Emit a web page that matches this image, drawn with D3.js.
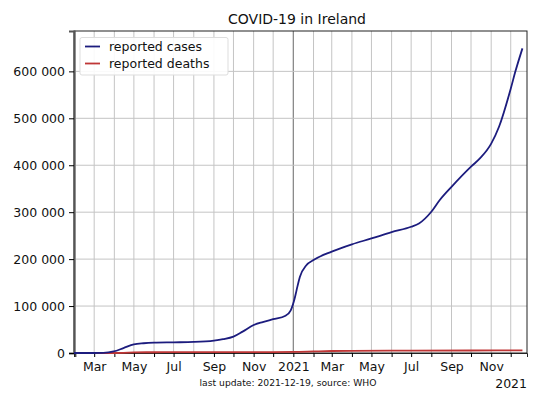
<!DOCTYPE html>
<html>
<head>
<meta charset="utf-8">
<script src="https://cdn.jsdelivr.net/npm/d3@7"></script>
<style>
  body { margin: 0; background: #fff; }
  svg { font-family: "DejaVu Sans", sans-serif; }
</style>
</head>
<body>
<div id="chart"></div>
<script>
// Cumulative reported cases (WHO)
const caseDates = [
    "2020-01-30", "2020-02-29", "2020-03-15", "2020-03-31", "2020-04-15", "2020-05-01",
    "2020-05-16", "2020-06-01", "2020-07-01", "2020-08-01", "2020-09-01", "2020-09-15",
    "2020-10-01", "2020-10-15", "2020-11-01", "2020-11-15", "2020-12-01", "2020-12-20",
    "2020-12-28", "2021-01-03", "2021-01-06", "2021-01-11", "2021-01-21", "2021-02-01",
    "2021-03-01", "2021-04-01", "2021-05-01", "2021-06-01", "2021-07-01", "2021-07-13",
    "2021-08-01", "2021-08-14", "2021-09-01", "2021-10-01", "2021-10-15", "2021-11-01",
    "2021-11-13", "2021-12-01", "2021-12-08", "2021-12-19"
];
const caseValues = [
    0, 1, 170, 3200, 10500, 18500,
    20800, 22000, 22700, 23500, 26400, 29500,
    35000, 45500, 59600, 66000, 72000, 79500,
    91000, 116000, 134000, 162000, 187000, 198000,
    216000, 231500, 244000, 257500, 269000, 276000,
    301000, 326000, 354000, 397000, 415000, 446000,
    482000, 563000, 599000, 649000
];

// Cumulative reported deaths
const deathDates = [
    "2020-01-30", "2020-03-20", "2020-04-15", "2020-05-01", "2020-06-01", "2020-07-01",
    "2020-09-01", "2020-11-01", "2020-12-01", "2021-01-01", "2021-02-01", "2021-03-01",
    "2021-04-01", "2021-07-01", "2021-10-01", "2021-12-19"
];
const deathValues = [
    0, 3, 440, 1270, 1650, 1740,
    1777, 1930, 2050, 2250, 3300, 4300,
    4700, 5000, 5300, 5800
];

// Axis ticks and labels
const yTicks = [0, 100000, 200000, 300000, 400000, 500000, 600000];
const monthLabels = ["", "", "Mar", "", "May", "", "Jul", "", "Sep", "", "Nov", ""];
const seriesNames = ["reported cases", "reported deaths"];
const seriesColors = ["#1c1c7e", "#bf3636"];

// Sizes and margins
const width = 540;
const height = 405;
const marginTop = 31;
const marginLeft = 74;
const marginRight = 13;
const marginBottom = 52;

const parse = d3.utcParse("%Y-%m-%d");
const cases = caseDates.map((d, i) => ({date: parse(d), value: caseValues[i]}));
const deaths = deathDates.map((d, i) => ({date: parse(d), value: deathValues[i]}));

const svg = d3.select("#chart").append("svg")
    .attr("width", width)
    .attr("height", height);

// Scales
const xScale = d3.scaleUtc()
    .domain([parse("2020-01-30"), parse("2021-12-26")])
    .range([marginLeft, width - marginRight]);

const yScale = d3.scaleLinear()
    .domain([0, 686000])
    .range([height - marginBottom, marginTop]);

const months = xScale.ticks(d3.utcMonth.every(1));

// Vertical grid lines every month, year boundary darker
svg.append("g")
    .selectAll("line")
    .data(months)
    .enter()
    .append("line")
    .attr("x1", d => xScale(d))
    .attr("x2", d => xScale(d))
    .attr("y1", marginTop)
    .attr("y2", height - marginBottom)
    .style("stroke", d => d.getUTCMonth() === 0 ? "#8a8a8a" : "#c4c4c4")
    .style("stroke-width", d => d.getUTCMonth() === 0 ? 1.3 : 1);

// Horizontal grid lines
svg.append("g")
    .selectAll("line")
    .data(yTicks.slice(1))
    .enter()
    .append("line")
    .attr("x1", marginLeft)
    .attr("x2", width - marginRight)
    .attr("y1", d => yScale(d))
    .attr("y2", d => yScale(d))
    .style("stroke", "#c4c4c4")
    .style("stroke-width", 1);

// Frame
svg.append("rect")
    .attr("x", marginLeft)
    .attr("y", marginTop)
    .attr("width", width - marginLeft - marginRight)
    .attr("height", height - marginTop - marginBottom)
    .style("fill", "none")
    .style("stroke", "#222")
    .style("stroke-width", 1);

// Y axis
const fmt = d3.formatLocale({decimal: ".", thousands: " ", grouping: [3], currency: ["", ""]}).format(",");
const yAxis = svg.append("g")
    .attr("transform", `translate(${marginLeft},0)`)
    .call(d3.axisLeft(yScale).tickValues(yTicks).tickFormat(fmt).tickSize(5).tickPadding(4));
yAxis.select(".domain").style("stroke", "#555").style("stroke-width", 2);
yAxis.selectAll("text").style("font-size", "12.5px").style("fill", "#111").style("font-family", "DejaVu Sans");

// X axis
const xAxis = svg.append("g")
    .attr("transform", `translate(0,${height - marginBottom})`)
    .call(d3.axisBottom(xScale)
        .tickValues(months)
        .tickSize(4)
        .tickPadding(5)
        .tickFormat(d => d.getUTCMonth() === 0 ? d3.utcFormat("%Y")(d) : monthLabels[d.getUTCMonth()]));
xAxis.select(".domain").style("stroke", "#222");
xAxis.selectAll("text").style("font-size", "12.5px").style("fill", "#111").style("font-family", "DejaVu Sans");

// Lines
const line = d3.line()
    .x(d => xScale(d.date))
    .y(d => yScale(d.value))
    .curve(d3.curveMonotoneX);

svg.append("path")
    .datum(deaths)
    .attr("d", line)
    .style("fill", "none")
    .style("stroke", seriesColors[1])
    .style("stroke-width", 1.8);

svg.append("path")
    .datum(cases)
    .attr("d", line)
    .style("fill", "none")
    .style("stroke", seriesColors[0])
    .style("stroke-width", 1.8);

// Title
svg.append("text")
    .attr("x", 297)
    .attr("y", 24)
    .attr("text-anchor", "middle")
    .text("COVID-19 in Ireland")
    .style("font-size", "14px")
    .style("fill", "#111");

// Footer notes
svg.append("text")
    .attr("x", 288)
    .attr("y", 386)
    .attr("text-anchor", "middle")
    .text("last update: 2021-12-19, source: WHO")
    .style("font-size", "9.2px")
    .style("fill", "#111");

svg.append("text")
    .attr("x", width - marginRight)
    .attr("y", 388)
    .attr("text-anchor", "end")
    .text("2021")
    .style("font-size", "12.5px")
    .style("fill", "#111");

// Legend
const legend = svg.append("g");
legend.append("rect")
    .attr("x", 80)
    .attr("y", 37.5)
    .attr("width", 148)
    .attr("height", 37.5)
    .attr("rx", 2)
    .style("fill", "#fff")
    .style("fill-opacity", 0.9)
    .style("stroke", "#ddd");

seriesNames.forEach((name, i) => {
    legend.append("line")
        .attr("x1", 85)
        .attr("x2", 100)
        .attr("y1", 46.5 + i * 17)
        .attr("y2", 46.5 + i * 17)
        .style("stroke", seriesColors[i])
        .style("stroke-width", 1.8);
    legend.append("text")
        .attr("x", 109)
        .attr("y", 46.5 + i * 17)
        .attr("dy", "0.35em")
        .text(name)
        .style("font-size", "12.5px")
        .style("fill", "#111");
});
</script>
</body>
</html>
